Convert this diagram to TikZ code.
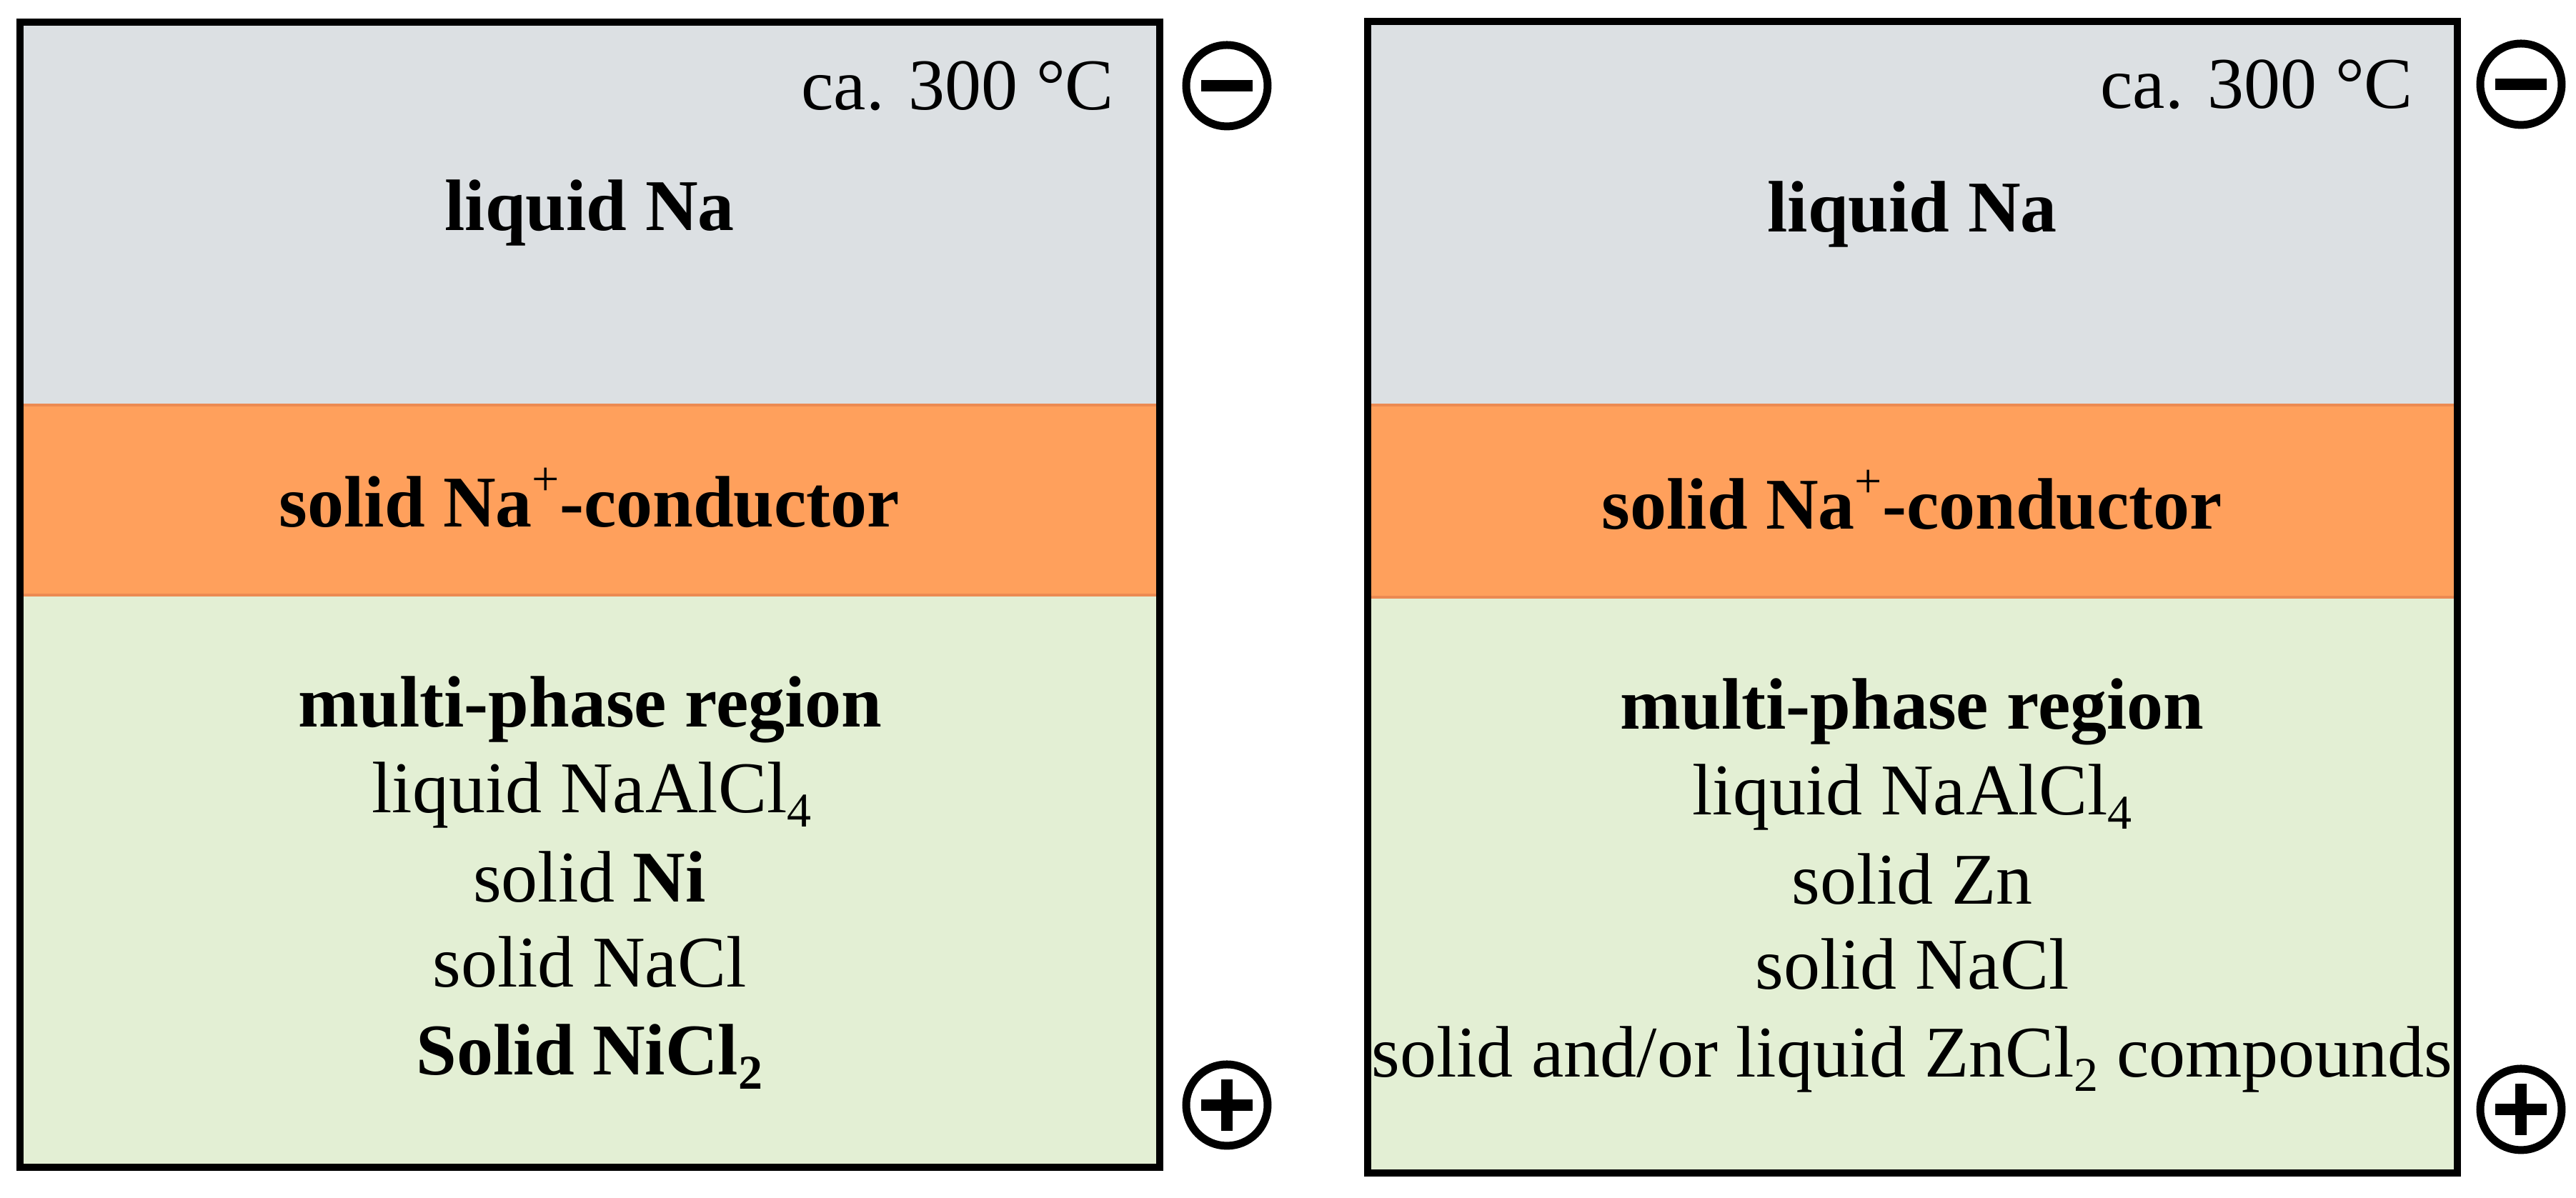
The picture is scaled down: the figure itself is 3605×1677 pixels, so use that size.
\documentclass[tikz,border=0pt]{standalone}
\usepackage{fontspec}
\setmainfont{Liberation Serif}
\definecolor{graybg}{RGB}{220,224,227}
\definecolor{orangebg}{RGB}{255,160,92}
\definecolor{orangeedge}{RGB}{236,138,82}
\definecolor{greenbg}{RGB}{227,239,212}
\newcommand{\mysub}[1]{\raisebox{-0.42ex}{\fontsize{6.8}{8}\selectfont #1}}
\newcommand{\mysup}[1]{\raisebox{0.95ex}{\fontsize{6.8}{8}\selectfont\mdseries #1}}
\begin{document}
\begin{tikzpicture}[x=0.1pt,y=-0.1pt,
  txt/.style={anchor=base,inner sep=0pt,font=\fontsize{10.2}{12}\selectfont},
  txtb/.style={txt,font=\fontsize{10.2}{12}\selectfont\bfseries},
  frame/.style={draw=black,line width=1pt},
  edge/.style={draw=orangeedge,line width=0.35pt},
  pole/.style={circle,draw=black,line width=1.1pt,minimum size=11.4pt,inner sep=0pt},
  polebar/.style={line width=1.6pt}]
\useasboundingbox (0,0) rectangle (3605,1677);
% ---------- left cell ----------
\fill[graybg] (28,31) rectangle (1623,567);
\fill[orangebg] (28,567) rectangle (1623,833);
\fill[greenbg] (28,833) rectangle (1623,1634);
\draw[edge] (28,567) -- (1623,567);
\draw[edge] (28,833) -- (1623,833);
\draw[frame] (28,31) rectangle (1623,1634);
\node[txt,anchor=base east] (lT) at (1561,154) {ca. 300 °C};
\node[txtb] (lNa) at (825,323) {liquid Na};
\node[txtb] (lC) at (825,738) {solid Na\mysup{+}-conductor};
\node[txtb] (lM) at (826,1018) {multi-phase region};
\node[txt] (l1) at (828,1138) {liquid NaAlCl\mysub{4}};
\node[txt] (l2) at (825,1263) {solid \textbf{Ni}};
\node[txt] (l3) at (825,1382) {solid NaCl};
\node[txtb] (l4) at (825,1505) {Solid NiCl\mysub{2}};
% ---------- right cell ----------
\fill[graybg] (1914,30) rectangle (3439,567);
\fill[orangebg] (1914,567) rectangle (3439,836);
\fill[greenbg] (1914,836) rectangle (3439,1642);
\draw[edge] (1914,567) -- (3439,567);
\draw[edge] (1914,836) -- (3439,836);
\draw[frame] (1914,30) rectangle (3439,1642);
\node[txt,anchor=base east] (rT) at (3379,152) {ca. 300 °C};
\node[txtb] (rNa) at (2676,325) {liquid Na};
\node[txtb] (rC) at (2676,741) {solid Na\mysup{+}-conductor};
\node[txtb] (rM) at (2676,1021) {multi-phase region};
\node[txt] (r1) at (2676,1141) {liquid NaAlCl\mysub{4}};
\node[txt] (r2) at (2676,1266) {solid Zn};
\node[txt] (r3) at (2676,1385) {solid NaCl};
\node[txt] (r4) at (2676,1508) {solid and/or liquid ZnCl\mysub{2} compounds};
% ---------- poles ----------
\node[pole] (lminus) at (1717,120) {};
\draw[polebar] ([xshift=-3.6pt]lminus.center) -- ([xshift=3.6pt]lminus.center);
\node[pole] (lplus) at (1717,1547) {};
\draw[polebar] ([xshift=-3.6pt]lplus.center) -- ([xshift=3.6pt]lplus.center);
\draw[polebar] ([yshift=-3.6pt]lplus.center) -- ([yshift=3.6pt]lplus.center);
\node[pole] (rminus) at (3528,118) {};
\draw[polebar] ([xshift=-3.6pt]rminus.center) -- ([xshift=3.6pt]rminus.center);
\node[pole] (rplus) at (3528,1553) {};
\draw[polebar] ([xshift=-3.6pt]rplus.center) -- ([xshift=3.6pt]rplus.center);
\draw[polebar] ([yshift=-3.6pt]rplus.center) -- ([yshift=3.6pt]rplus.center);
\end{tikzpicture}
\end{document}
